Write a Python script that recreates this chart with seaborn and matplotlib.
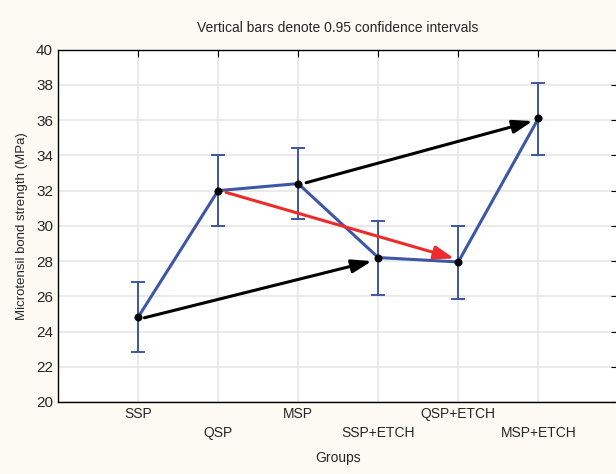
import matplotlib
matplotlib.use("Agg")
import matplotlib.pyplot as plt
import seaborn as sns
import pandas as pd
import numpy as np

groups = ["SSP", "QSP", "MSP", "SSP+ETCH", "QSP+ETCH", "MSP+ETCH"]
means = [24.8, 32.0, 32.4, 28.2, 27.95, 36.1]
ci_low = [22.85, 30.0, 30.4, 26.1, 25.85, 34.05]
ci_high = [26.8, 34.05, 34.45, 30.25, 30.0, 38.1]

# arrows: (start group idx, start value, end group idx, end value, colour)
arrow_from_x = [0.08, 1.1, 2.1]
arrow_from_y = [24.78, 31.9, 32.45]
arrow_to_x = [2.92, 3.95, 4.93]
arrow_to_y = [28.0, 28.15, 35.95]
arrow_colors = ["black", "#ee2a2a", "black"]

sns.set_style("white")
plt.rcParams["font.family"] = ["Liberation Sans Narrow", "Liberation Sans", "DejaVu Sans"]

fig = plt.figure(figsize=(6.16, 4.74), dpi=100)
fig.patch.set_facecolor("#fcfaf3")
ax = fig.add_axes([0.094, 0.152, 0.91, 0.743])
ax.set_facecolor("white")

df = pd.DataFrame({"x": np.arange(len(groups)), "mean": means})
yerr = np.array([np.array(means) - np.array(ci_low), np.array(ci_high) - np.array(means)])

ax.errorbar(df["x"], df["mean"], yerr=yerr, fmt="none", ecolor="#3d56a6",
            elinewidth=1.4, capsize=5, capthick=1.4, zorder=2)
sns.lineplot(data=df, x="x", y="mean", ax=ax, color="#3d56a6", lw=2.2, zorder=3)
sns.scatterplot(data=df, x="x", y="mean", ax=ax, color="black", s=28,
                edgecolor="black", zorder=5)

for x0, y0, x1, y1, c in zip(arrow_from_x, arrow_from_y, arrow_to_x, arrow_to_y, arrow_colors):
    ax.annotate("", xy=(x1, y1), xytext=(x0, y0),
                arrowprops=dict(arrowstyle="-|>,head_length=0.75,head_width=0.25",
                                color=c, lw=2.2, mutation_scale=16,
                                shrinkA=0, shrinkB=0),
                zorder=6)

ax.set_xlim(-1, 6)
ax.set_ylim(20, 40)
ax.set_yticks(np.arange(20, 41, 2))
ax.set_xticks(np.arange(len(groups)))
labels = [g if i % 2 == 0 else "\n" + g for i, g in enumerate(groups)]
ax.set_xticklabels(labels, fontsize=10, linespacing=1.5)
ax.tick_params(axis="y", labelsize=11)
ax.tick_params(direction="in", top=True, right=True, length=5, width=0.8, color="black")
ax.grid(True, color="#e4e4e4", lw=1.1)
ax.set_axisbelow(True)
for s in ax.spines.values():
    s.set_color("black")
    s.set_linewidth(1.0)

ax.set_xlabel("Groups", fontsize=10, labelpad=8)
ax.set_ylabel("Microtensil bond strength (MPa)", fontsize=9.5,
              family=["Liberation Sans", "DejaVu Sans"], labelpad=6)
ax.set_title("Vertical bars denote 0.95 confidence intervals", fontsize=10, pad=13)

fig.savefig("out.png", dpi=100, facecolor=fig.get_facecolor())
